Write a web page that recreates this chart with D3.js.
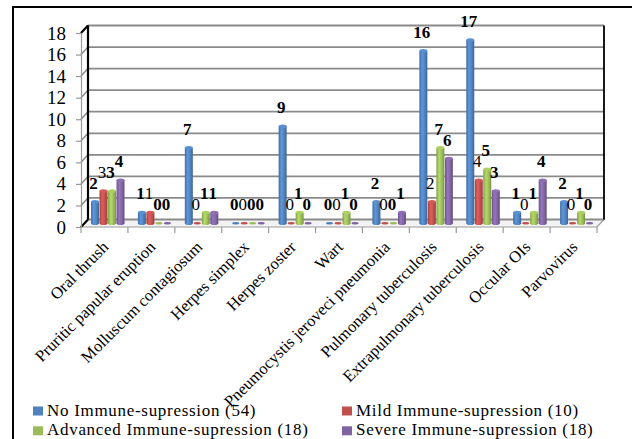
<!DOCTYPE html>
<html lang="en">
<head>
    <meta charset="UTF-8">
    <title>Opportunistic infections by immune-suppression</title>
    <script src="https://cdn.jsdelivr.net/npm/d3@7/dist/d3.min.js"></script>
    <style>
        body { margin: 0; background: #fff; }
        #chart { width: 632px; height: 439px; }
        text { font-family: "Liberation Serif", "Times New Roman", serif; fill: #000; }
    </style>
</head>
<body>
<div id="chart"></div>
<script>
    // categories and series
    var categories = ["Oral thrush", "Pruritic papular eruption", "Molluscum contagiosum", "Herpes simplex",
        "Herpes zoster", "Wart", "Pneumocystis jeroveci pneumonia", "Pulmonary tuberculosis",
        "Extrapulmonary tuberculosis", "Occular OIs", "Parvovirus"];
    var seriesNames = ["No Immune-supression (54)", "Mild Immune-supression (10)",
        "Advanced Immune-supression (18)", "Severe Immune-supression (18)"];
    var noImmune = [2, 1, 7, 0, 9, 0, 2, 16, 17, 1, 2];
    var mildImmune = [3, 1, 0, 0, 0, 0, 0, 2, 4, 0, 0];
    var advancedImmune = [3, 0, 1, 0, 1, 1, 0, 7, 5, 1, 1];
    var severeImmune = [4, 0, 1, 0, 0, 0, 1, 6, 3, 4, 0];
    var yTicks = [0, 2, 4, 6, 8, 10, 12, 14, 16, 18];

    var seriesValues = [noImmune, mildImmune, advancedImmune, severeImmune];
    var colors = ["#4F81BD", "#C0504D", "#9BBB59", "#8064A2"];

    var W = 632, H = 439;
    var DX = 7, DY = 7.5; // 3d depth of the floor / walls
    var serif = "'Liberation Serif', 'Times New Roman', serif";

    var svg = d3.select("#chart").append("svg")
        .attr("width", W)
        .attr("height", H);

    // outer frame (only top and left edges show)
    svg.append("path")
        .attr("d", "M13,440 L13,7 L633,7")
        .attr("fill", "none")
        .attr("stroke", "#000")
        .attr("stroke-width", 2);

    var x0 = d3.scaleBand().domain(categories).range([81, 597]);
    var x1 = d3.scaleBand().domain(d3.range(4)).range([6.5, 40]).paddingInner(0.06);
    var y = d3.scaleLinear().domain([0, 18]).range([227, 33]);

    var gradDefs = svg.append("defs");
    colors.forEach(function (c, i) {
        var g = gradDefs.append("linearGradient")
            .attr("id", "cyl" + i)
            .attr("x1", "0%").attr("x2", "100%").attr("y1", "0%").attr("y2", "0%");
        g.append("stop").attr("offset", "0%").attr("stop-color", d3.color(c).darker(0.5));
        g.append("stop").attr("offset", "35%").attr("stop-color", d3.color(c).brighter(0.45));
        g.append("stop").attr("offset", "70%").attr("stop-color", c);
        g.append("stop").attr("offset", "100%").attr("stop-color", d3.color(c).darker(0.7));
    });

    // floor
    var fx0 = x0.range()[0], fx1 = x0.range()[1], fy = y(0);
    svg.append("path")
        .attr("d", "M" + fx0 + "," + fy + " L" + fx1 + "," + fy + " L" + (fx1 + DX) + "," + (fy - DY) +
            " L" + (fx0 + DX) + "," + (fy - DY) + "Z")
        .attr("fill", "#f3f3f3")
        .attr("stroke", "#9a9a9a")
        .attr("stroke-width", 1.2);

    // back wall gridlines
    var grid = svg.append("g");
    grid.selectAll("line.back")
        .data(yTicks)
        .enter()
        .append("line")
        .attr("class", "back")
        .attr("x1", fx0 + DX)
        .attr("x2", fx1 + DX)
        .attr("y1", function (d) { return y(d) - DY; })
        .attr("y2", function (d) { return y(d) - DY; })
        .attr("stroke", "#8a8a8a")
        .attr("stroke-width", 1.8);
    // side wall gridlines
    grid.selectAll("line.side")
        .data(yTicks)
        .enter()
        .append("line")
        .attr("class", "side")
        .attr("x1", fx0)
        .attr("x2", fx0 + DX)
        .attr("y1", function (d) { return y(d); })
        .attr("y2", function (d) { return y(d) - DY; })
        .attr("stroke", "#8a8a8a")
        .attr("stroke-width", 1.5);

    // walls edges
    svg.append("line")
        .attr("x1", fx0 + DX).attr("x2", fx0 + DX)
        .attr("y1", y(18) - DY).attr("y2", y(0) - DY)
        .attr("stroke", "#000").attr("stroke-width", 2.2);
    svg.append("line")
        .attr("x1", fx1 + DX).attr("x2", fx1 + DX)
        .attr("y1", y(18) - DY).attr("y2", y(0) - DY)
        .attr("stroke", "#000").attr("stroke-width", 1.8);
    svg.append("line")
        .attr("x1", fx0).attr("x2", fx0 + DX)
        .attr("y1", y(18)).attr("y2", y(18) - DY)
        .attr("stroke", "#000").attr("stroke-width", 2);
    svg.append("line")
        .attr("x1", fx0).attr("x2", fx0 + DX)
        .attr("y1", y(0)).attr("y2", y(0) - DY)
        .attr("stroke", "#000").attr("stroke-width", 2);

    // y axis on the front edge
    var yAxis = d3.axisLeft(y).tickValues(yTicks).tickSize(5).tickPadding(10);
    var gy = svg.append("g")
        .attr("transform", "translate(" + fx0 + ",0)")
        .call(yAxis);
    gy.select(".domain").attr("stroke", "#999").attr("stroke-width", 1.2);
    gy.selectAll(".tick line").attr("stroke", "#999").attr("stroke-width", 1.2);
    gy.selectAll(".tick text")
        .style("font-family", serif)
        .style("font-size", "19px")
        .attr("fill", "#000");

    // x axis ticks and rotated labels
    var xAxis = d3.axisBottom(x0).tickSize(0).tickFormat("");
    var gx = svg.append("g")
        .attr("transform", "translate(0," + fy + ")")
        .call(xAxis);
    gx.select(".domain").remove();
    gx.selectAll(".cat-tick")
        .data(d3.range(categories.length + 1))
        .enter()
        .append("line")
        .attr("x1", function (i) { return fx0 + i * x0.step(); })
        .attr("x2", function (i) { return fx0 + i * x0.step(); })
        .attr("y1", 0)
        .attr("y2", 6)
        .attr("stroke", "#999")
        .attr("stroke-width", 1.2);
    svg.append("g").selectAll("text")
        .data(categories)
        .enter()
        .append("text")
        .attr("transform", function (d) {
            var cx = x0(d) + x0.bandwidth() / 2 + 5;
            return "translate(" + cx + ",248) rotate(-45)";
        })
        .attr("text-anchor", "end")
        .style("font-family", serif)
        .style("font-size", "16.5px")
        .text(function (d) { return d; });

    // cylinders
    var barData = [];
    categories.forEach(function (c, ci) {
        seriesValues.forEach(function (vals, si) {
            barData.push({cat: c, s: si, value: vals[ci]});
        });
    });
    var bw = x1.bandwidth();
    var baseY = y(0) - DY / 2;
    var bars = svg.append("g").selectAll("g")
        .data(barData)
        .enter()
        .append("g");
    bars.each(function (d) {
        var g = d3.select(this);
        var cx = x0(d.cat) + x1(d.s) + bw / 2 + DX / 2;
        var top = y(d.value) - DY / 2;
        var ry = bw * 0.22;
        if (d.value > 0) {
            g.append("rect")
                .attr("x", cx - bw / 2)
                .attr("y", top)
                .attr("width", bw)
                .attr("height", baseY - top)
                .attr("fill", "url(#cyl" + d.s + ")");
            g.append("ellipse")
                .attr("cx", cx).attr("cy", baseY)
                .attr("rx", bw / 2).attr("ry", ry)
                .attr("fill", "url(#cyl" + d.s + ")");
            g.append("ellipse")
                .attr("cx", cx).attr("cy", top)
                .attr("rx", bw / 2).attr("ry", ry)
                .attr("fill", d3.color(colors[d.s]).brighter(0.3));
        } else {
            g.append("ellipse")
                .attr("cx", cx).attr("cy", baseY)
                .attr("rx", bw / 2 - 0.5).attr("ry", 1.2)
                .attr("fill", colors[d.s]);
        }
        g.append("text")
            .attr("x", cx - 1.5)
            .attr("y", top - 13)
            .attr("text-anchor", "middle")
            .style("font-family", serif)
            .style("font-size", "17px")
            .style("font-weight", d.s === 1 ? "normal" : "bold")
            .text(d.value);
    });

    // legend
    var legendPos = [[33, 415.5], [342, 415.5], [33, 435.3], [342, 435.3]];
    var legend = svg.append("g").selectAll("g")
        .data(seriesNames)
        .enter()
        .append("g")
        .attr("transform", function (d, i) {
            return "translate(" + legendPos[i][0] + "," + legendPos[i][1] + ")";
        });
    legend.append("rect")
        .attr("x", 0)
        .attr("y", -9)
        .attr("width", 10)
        .attr("height", 9)
        .attr("fill", function (d, i) { return colors[i]; });
    legend.append("text")
        .attr("x", 14)
        .attr("y", 0)
        .style("font-family", serif)
        .style("font-size", "17px")
        .style("letter-spacing", "0.7px")
        .text(function (d) { return d; });
</script>
</body>
</html>
